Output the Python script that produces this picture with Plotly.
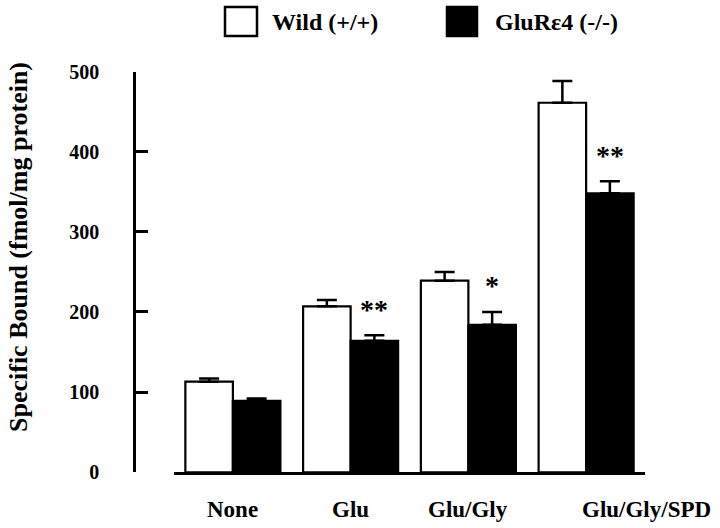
import plotly.graph_objects as go

categories = ["None", "Glu", "Glu/Gly", "Glu/Gly/SPD"]
wild_values = [113, 207, 239, 461]
wild_errors = [4, 8, 11, 27]
ko_values = [89, 164, 184, 348]
ko_errors = [3, 7, 16, 15]
significance = ["", "**", "*", "**"]
series_names = ["Wild (+/+)", "GluRε4 (-/-)"]
y_ticks = [0, 100, 200, 300, 400, 500]

W, H = 720, 528
FONT = "Liberation Serif, Times New Roman, serif"

def px(x):
    return x / W

def py(y):
    return (H - y) / H

BARGAP = 0.193

fig = go.Figure()
fig.add_trace(go.Bar(
    x=list(range(len(categories))), y=wild_values, name=series_names[0],
    marker=dict(color="white", line=dict(color="black", width=2.2)),
    error_y=dict(type="data", symmetric=False, array=wild_errors,
                 arrayminus=[0] * len(wild_errors), color="black",
                 thickness=2.5, width=10),
    showlegend=False,
))
fig.add_trace(go.Bar(
    x=list(range(len(categories))), y=ko_values, name=series_names[1],
    marker=dict(color="black", line=dict(color="black", width=2.2)),
    error_y=dict(type="data", symmetric=False, array=ko_errors,
                 arrayminus=[0] * len(ko_errors), color="black",
                 thickness=2.5, width=10),
    showlegend=False,
))

annotations = []
ko_offset = (1 - BARGAP) / 4
for i, s in enumerate(significance):
    if s:
        annotations.append(dict(
            x=i + ko_offset, y=ko_values[i] + ko_errors[i], xref="x", yref="y",
            text=s, showarrow=False, yanchor="middle", yshift=26,
            font=dict(family=FONT, size=28, color="black", weight="bold"),
        ))

for i, c in enumerate(categories):
    annotations.append(dict(
        x=i, y=py(509), xref="x", yref="paper", text=c, showarrow=False,
        yanchor="middle", xanchor="center",
        xshift=60 if i == len(categories) - 1 else 0,
        font=dict(family=FONT, size=23, color="black", weight="bold"),
    ))

annotations.append(dict(
    x=px(18.5), y=py(247.5), xref="paper", yref="paper",
    text="Specific Bound (fmol/mg protein)", textangle=-90, showarrow=False,
    xanchor="center", yanchor="middle",
    font=dict(family=FONT, size=26, color="black", weight="bold"),
))

shapes = []
legend_boxes = [(225, 257, "white"), (447, 477, "black")]
legend_text_x = [270, 493]
for (x0, x1, col), tx, name in zip(legend_boxes, legend_text_x, series_names):
    shapes.append(dict(type="rect", xref="paper", yref="paper",
                       x0=px(x0), x1=px(x1), y0=py(36), y1=py(7),
                       fillcolor=col, line=dict(color="black", width=2.5)))
    annotations.append(dict(
        x=px(tx), y=py(22), xref="paper", yref="paper", text=name,
        showarrow=False, xanchor="left", yanchor="middle",
        font=dict(family=FONT, size=24, color="black", weight="bold"),
    ))

fig.update_layout(
    width=W, height=H,
    margin=dict(l=0, r=0, t=0, b=0, pad=0, autoexpand=False),
    paper_bgcolor="white", plot_bgcolor="white",
    barmode="group", bargap=BARGAP, bargroupgap=0,
    annotations=annotations, shapes=shapes,
    xaxis=dict(domain=[px(174), px(645)], range=[-0.5, len(categories) - 0.5],
               showline=True, linecolor="black", linewidth=2.5,
               showticklabels=False, ticks="", showgrid=False, zeroline=False,
               anchor="y", automargin=False),
    yaxis=dict(domain=[py(472.3), py(71.5)], range=[0, 500],
               anchor="free", position=px(134), automargin=False,
               showline=True, linecolor="black", linewidth=2.5,
               ticks="inside", ticklen=12, tickwidth=2.5, tickcolor="black",
               tickvals=y_ticks, ticklabelstandoff=30,
               tickfont=dict(family=FONT, size=20, color="black", weight="bold"),
               showgrid=False, zeroline=False),
)

# remove the page's default body margin so the 720x528 figure fills the window
fig.write_html("out.html",
               config={"displayModeBar": False},
               post_script="document.body.style.margin='0';"
                           "document.body.style.overflow='hidden';")
